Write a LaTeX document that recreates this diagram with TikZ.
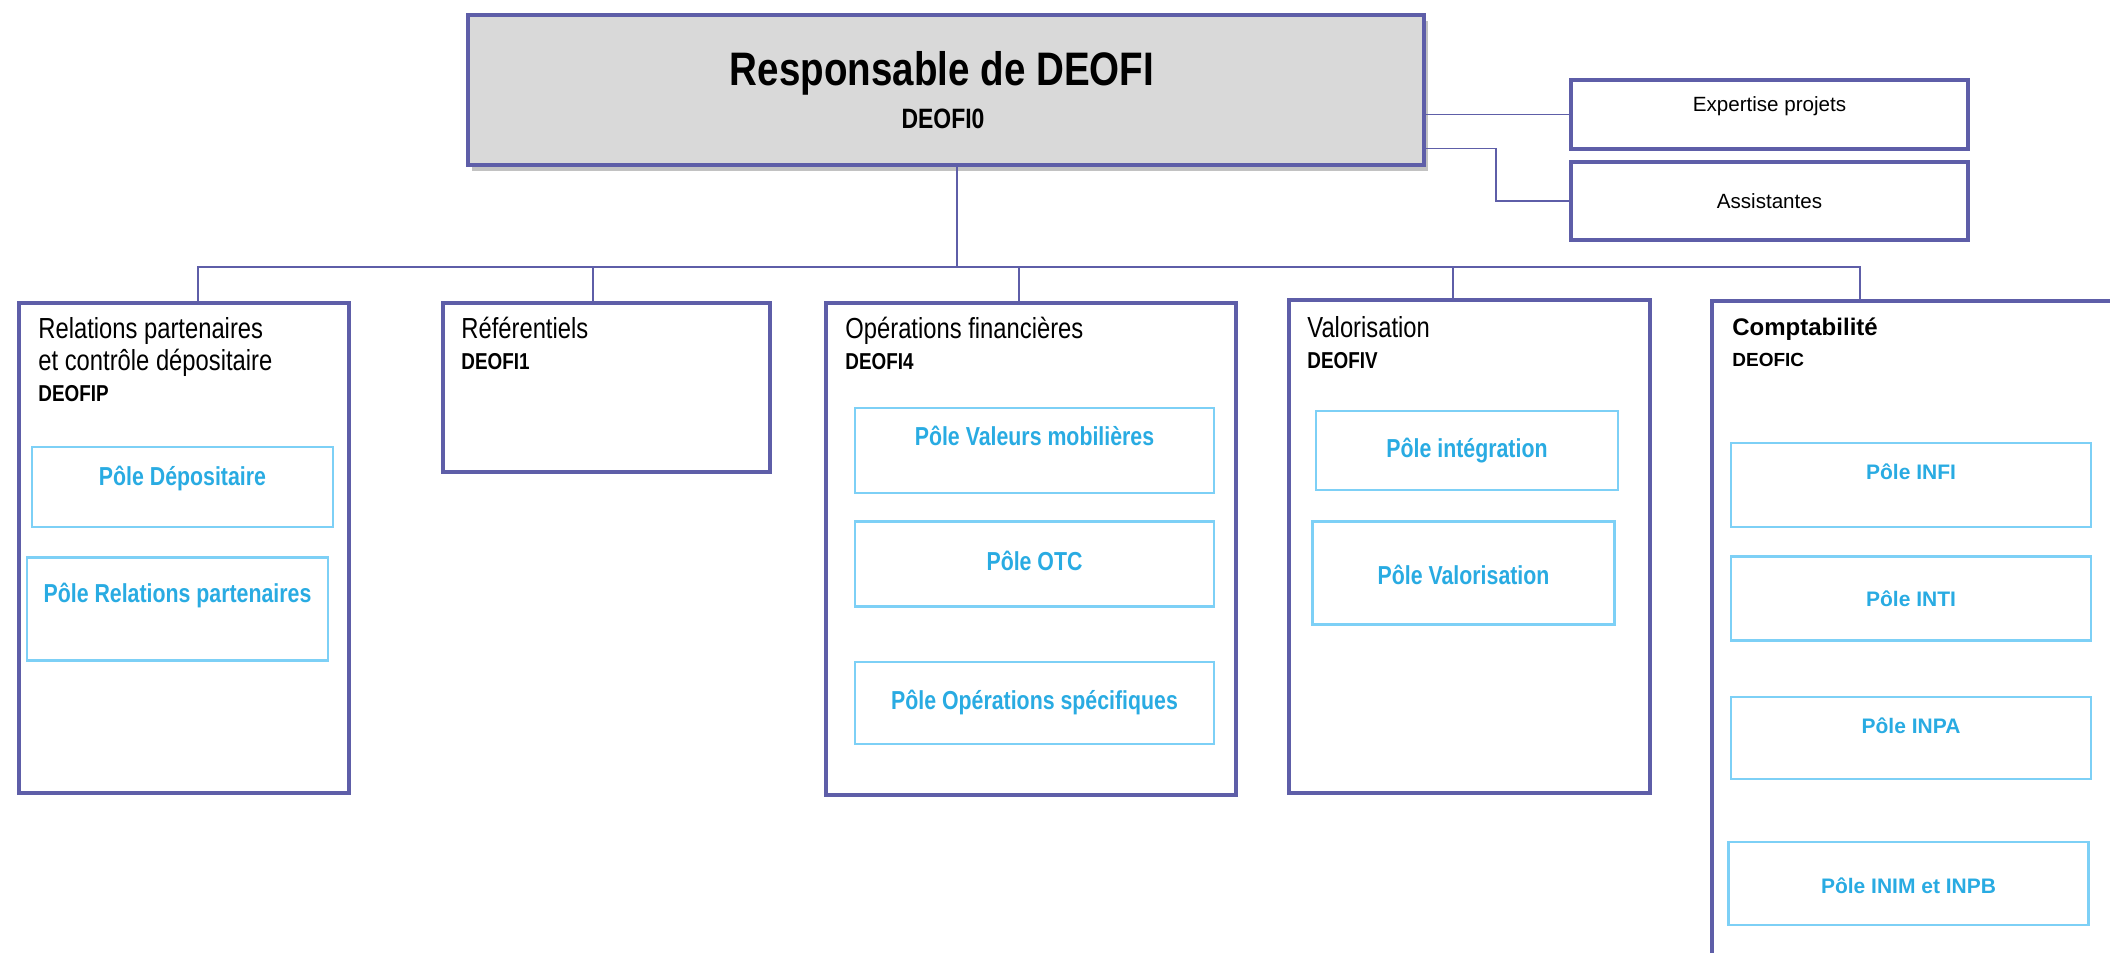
\documentclass[tikz,border=0pt]{standalone}
\usepackage{fontspec}
\setmainfont{Liberation Sans}
\newfontfamily\narrowfont{Liberation Sans}[FakeStretch=0.82]
\usetikzlibrary{positioning,calc,shadows}

\definecolor{framecol}{RGB}{94,94,168}
\definecolor{polecol}{RGB}{41,171,226}
\definecolor{polelinecol}{RGB}{125,208,246}
\definecolor{headfill}{RGB}{217,217,217}

\begin{document}
\begin{tikzpicture}[
    x=0.5pt, y=-0.5pt,
    head_box/.style={draw=framecol, line width=2.2pt, fill=headfill, anchor=north west,
        minimum width=478pt, minimum height=75pt,
        drop shadow={shadow xshift=2pt, shadow yshift=-3pt, fill=black!40, opacity=0.6}},
    side_box/.style={draw=framecol, line width=2pt, anchor=north west, minimum width=198.5pt,
        font=\fontsize{10.3}{12}\selectfont},
    unit_box/.style={draw=framecol, line width=2.2pt, anchor=north west},
    unit_title/.style={inner sep=0pt, align=left, text depth=3pt,
        font=\narrowfont\fontsize{14.5}{16}\selectfont},
    unit_code/.style={inner sep=0pt, font=\narrowfont\bfseries\fontsize{11.5}{13}\selectfont},
    pole_box/.style={draw=polelinecol, line width=1.2pt, text=polecol,
        text height=9.5pt, text depth=3pt,
        font=\narrowfont\bfseries\fontsize{13}{15}\selectfont},
    pole_wide/.style={pole_box, minimum width=180pt, text height=7.6pt, text depth=2.2pt,
        font=\bfseries\fontsize{10.5}{12}\selectfont},
    link/.style={draw=framecol, line width=0.8pt}
]

\useasboundingbox (0,0) rectangle (2110,953);
\clip (0,0) rectangle (2110,953);

% --- NODES ---

% Head of department (Top)
\node[head_box] (head) at (466,13) {};
\node[anchor=base, inner sep=0pt, font=\narrowfont\bfseries\fontsize{23.5}{28}\selectfont] (head_title) at (942,85) {Responsable de DEOFI};
\node[anchor=base, inner sep=0pt, font=\narrowfont\bfseries\fontsize{14}{16}\selectfont] (head_code) at (943,128) {DEOFI0};

% Staff attached to the head (Right)
\node[side_box, minimum height=34.5pt, text height=7.5pt, text depth=11pt] (expert) at (1569,78) {Expertise projets};
\node[side_box, minimum height=39pt] (assist) at (1569,160) {Assistantes};

% Units (Row below)
\node[unit_box, minimum width=165pt, minimum height=245pt] (rel) at (17,301) {};
\node[unit_box, minimum width=163.5pt, minimum height=84.5pt] (ref) at (441,301) {};
\node[unit_box, minimum width=205pt, minimum height=246pt] (ops) at (824,301) {};
\node[unit_box, minimum width=180.5pt, minimum height=246.5pt] (val) at (1287,298) {};
\node[unit_box, minimum width=215pt, minimum height=340pt] (cpt) at (1710,299) {};

% Unit titles and codes
\node[unit_title, below right=8pt and 10.5pt of rel.north west] (rel_title) {Relations partenaires\\et contrôle dépositaire};
\node[unit_code, below right=4pt and 0pt of rel_title.south west] (rel_code) {DEOFIP};

\node[unit_title, below right=8pt and 10pt of ref.north west] (ref_title) {Référentiels};
\node[unit_code, below right=4pt and 0pt of ref_title.south west] (ref_code) {DEOFI1};

\node[unit_title, below right=8pt and 10.5pt of ops.north west] (ops_title) {Opérations financières};
\node[unit_code, below right=4pt and 0pt of ops_title.south west] (ops_code) {DEOFI4};

\node[unit_title, below right=9pt and 10pt of val.north west] (val_title) {Valorisation};
\node[unit_code, below right=4pt and 0pt of val_title.south west] (val_code) {DEOFIV};

\node[unit_title, below right=9pt and 11pt of cpt.north west, font=\bfseries\fontsize{12}{14}\selectfont] (cpt_title) {Comptabilité};
\node[unit_code, below right=5.5pt and 0pt of cpt_title.south west, font=\bfseries\fontsize{9.5}{11}\selectfont] (cpt_code) {DEOFIC};

% Poles inside the units (text depth/height nudges the label up or down)
\node[pole_box, minimum width=150.5pt, minimum height=40pt, text depth=11pt] (pdep) at (182.5,487) {Pôle Dépositaire};
\node[pole_box, minimum width=150.5pt, minimum height=51.5pt, text depth=16.4pt, below=14pt of pdep, xshift=-2.5pt] (prel) {Pôle Relations partenaires};

\node[pole_box, minimum width=179.5pt, minimum height=42.5pt, text depth=15pt] (pvm) at (1034.5,450.5) {Pôle Valeurs mobilières};
\node[pole_box, minimum width=179.5pt, minimum height=42.5pt, below=13pt of pvm] (potc) {Pôle OTC};
\node[pole_box, minimum width=179.5pt, minimum height=41pt, below=26.5pt of potc] (pops) {Pôle Opérations spécifiques};

\node[pole_box, minimum width=151pt, minimum height=39.5pt] (pint) at (1467,450.5) {Pôle intégration};
\node[pole_box, minimum width=151pt, minimum height=51.5pt, text height=14.9pt, below=14.5pt of pint, xshift=-1.75pt] (pval) {Pôle Valorisation};

\node[pole_wide, minimum height=42pt, text depth=13pt] (pinfi) at (1911,485) {Pôle INFI};
\node[pole_wide, minimum height=42pt, text height=10.2pt, below=13.5pt of pinfi] (pinti) {Pôle INTI};
\node[pole_wide, minimum height=41pt, text depth=11.6pt, below=27pt of pinti] (pinpa) {Pôle INPA};
\node[pole_wide, minimum height=41.5pt, text height=11.6pt, below=30.5pt of pinpa, xshift=-1.25pt] (pinim) {Pôle INIM et INPB};

% --- EDGES ---

% Head to the staff boxes
\draw[link] (head.east |- expert.west) -- (expert.west);
\draw[link] ($(head.south east)+(0,-19)$) -| ($(assist.west)+(-73,0)$) -- (assist.west);

% Head to the units, through the bus
\coordinate (bus) at (957,267);
\draw[link] (bus |- head.south) -- (bus);
\draw[link] (bus) -| ($(rel.north west)+(181,0)$);
\draw[link] (bus) -| ($(ref.north west)+(152,0)$);
\draw[link] (bus) -| ($(ops.north west)+(195,0)$);
\draw[link] (bus) -| ($(val.north west)+(166,0)$);
\draw[link] (bus) -| ($(cpt.north west)+(150,0)$);

\end{tikzpicture}
\end{document}
